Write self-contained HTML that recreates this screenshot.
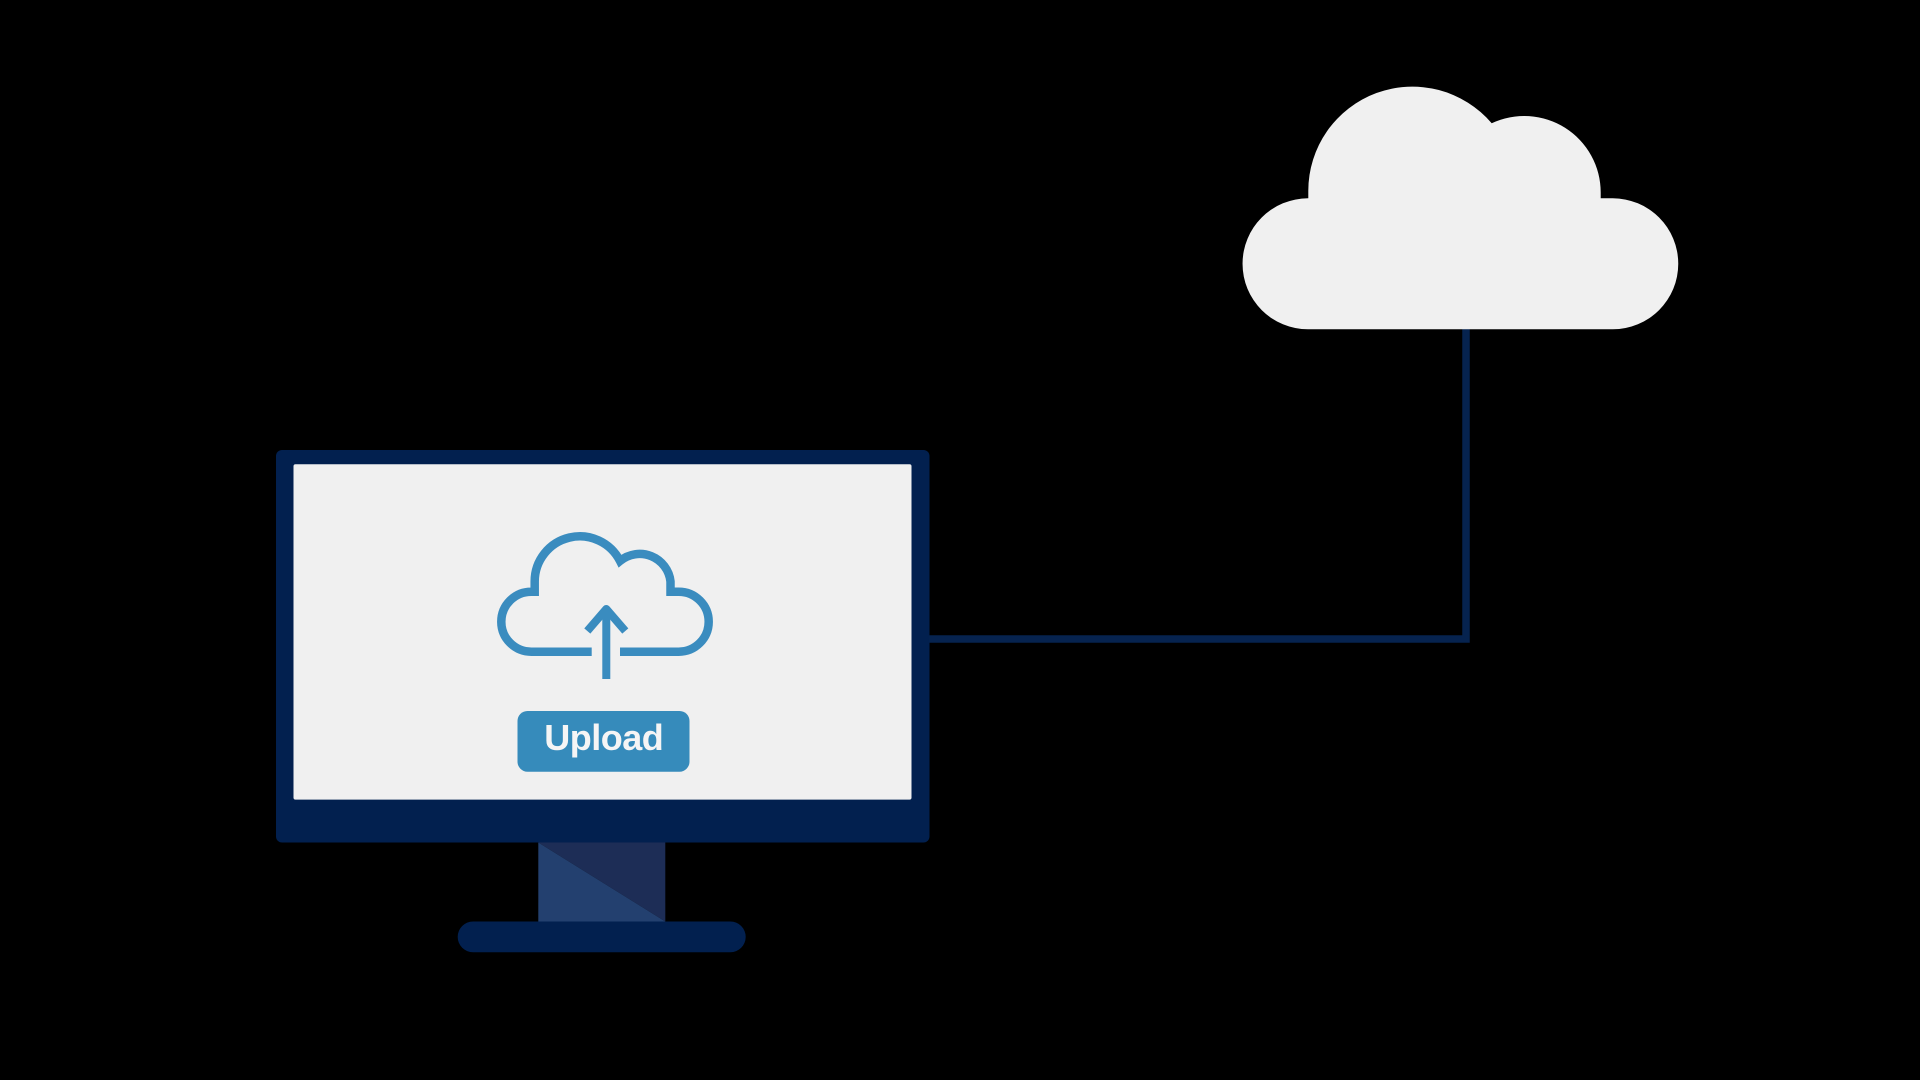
<!DOCTYPE html>
<html>
<head>
<meta charset="utf-8">
<style>
  html, body { margin: 0; padding: 0; background: #000; }
  body { width: 1920px; height: 1080px; overflow: hidden; }
  svg { display: block; }
</style>
</head>
<body>
<svg width="1920" height="1080" viewBox="0 0 1920 1080" xmlns="http://www.w3.org/2000/svg">
  <rect x="0" y="0" width="1920" height="1080" fill="#000"/>

  <!-- connector -->
  <polyline points="926,639 1466,639 1466,326" fill="none" stroke="#06234f" stroke-width="7.5" stroke-linejoin="miter"/>

  <!-- big cloud -->
  <path d="M 1308,329.3
           A 65.5 65.5 0 0 1 1308,198.3
           L 1308.3,198.3 L 1308.3,190.8
           A 104.1 104.1 0 0 1 1491.7,123.3
           A 76.4 76.4 0 0 1 1600.7,192.4
           L 1600.7,198.3 L 1612.8,198.3
           A 65.5 65.5 0 0 1 1612.8,329.3 Z" fill="#f0f0f0"/>

  <!-- monitor -->
  <rect x="276" y="450" width="653.5" height="392.5" rx="6" ry="6" fill="#02204f"/>
  <rect x="293.5" y="464.3" width="618" height="335.3" rx="2" ry="2" fill="#f0f0f0"/>

  <!-- neck -->
  <polygon points="538.3,842.5 665.3,842.5 665.3,921.5" fill="#1d2d56"/>
  <polygon points="538.3,842.5 665.3,921.5 538.3,921.5" fill="#23406f"/>

  <!-- base -->
  <rect x="457.7" y="921.5" width="288" height="30.8" rx="15.4" ry="15.4" fill="#02204f"/>

  <!-- upload cloud icon -->
  <g fill="none" stroke="#3a8cbf" stroke-width="8.5" stroke-linecap="butt" stroke-linejoin="miter" stroke-miterlimit="4">
    <path d="M 591.7,651.7 L 531.3,651.7
             A 30 30 0 0 1 531.3,591.7
             L 534.7,591.7 L 534.7,581.3
             A 45.1 45.1 0 0 1 620,561
             A 31 31 0 0 1 670.5,581.5
             L 670.5,591.7 L 678.7,591.7
             A 30 30 0 0 1 678.7,651.7
             L 620,651.7"/>
  </g>
  <g fill="none" stroke="#3a8cbf" stroke-width="8" stroke-linejoin="round">
    <line x1="606.3" y1="679" x2="606.3" y2="612" stroke-linecap="butt"/>
    <polyline points="587.3,631 606.3,609 625.3,631" stroke-linecap="butt"/>
  </g>

  <!-- upload button -->
  <rect x="517.5" y="711" width="172" height="60.7" rx="10" ry="10" fill="#368bbb"/>
  <text x="603.8" y="750" text-anchor="middle" font-family="'Liberation Sans', Arial, sans-serif" font-weight="bold" font-size="36" letter-spacing="-0.5" fill="#f5f5f5">Upload</text>
</svg>
</body>
</html>
